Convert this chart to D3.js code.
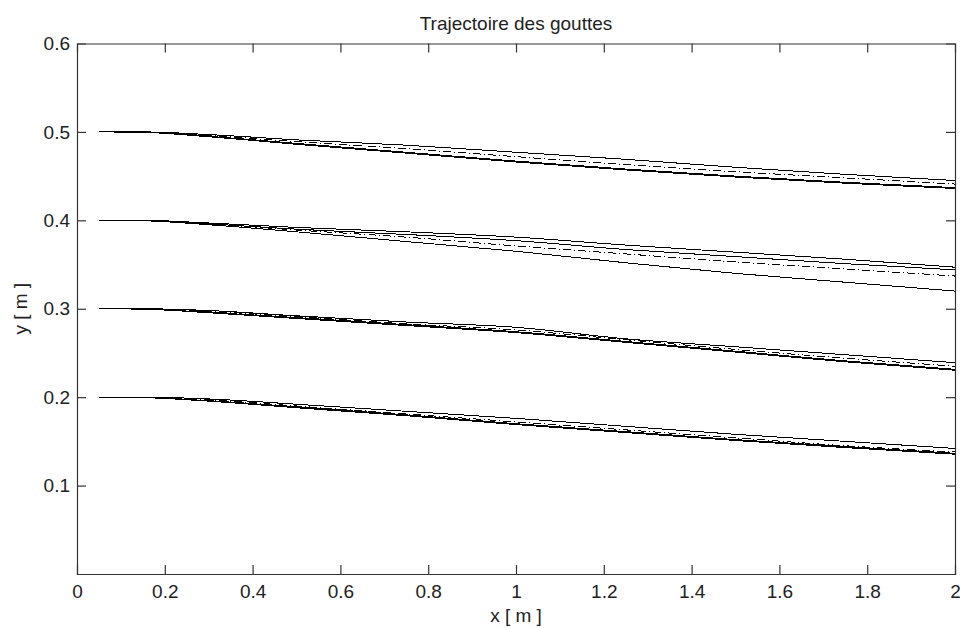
<!DOCTYPE html>
<html>
<head>
<meta charset="utf-8">
<script src="https://cdn.jsdelivr.net/npm/d3@7"></script>
<style>
  html, body { margin: 0; padding: 0; background: #fff; }
  svg { display: block; }
  text { font-family: "Liberation Sans", Arial, sans-serif; fill: #222; }
</style>
</head>
<body>
<svg id="chart" width="960" height="628"></svg>
<script>
// ---- data ----
const titleText = "Trajectoire des gouttes";
const xLabel = "x [ m ]";
const yLabel = "y [ m ]";
const xTicks = [0, 0.2, 0.4, 0.6, 0.8, 1, 1.2, 1.4, 1.6, 1.8, 2];
const yTicks = [0.1, 0.2, 0.3, 0.4, 0.5, 0.6];

// sample abscissae of the trajectories
const xs = [0.05, 0.15, 0.3, 0.5, 0.75, 1.0, 1.25, 1.5, 1.75, 2.0];

// drop released at y = 0.5
const g5Upper   = [0.5, 0.5,    0.497, 0.491, 0.485, 0.477, 0.469, 0.460, 0.452, 0.445];
const g5DashDot = [0.5, 0.5,    0.496, 0.489, 0.481, 0.472, 0.463, 0.455, 0.448, 0.441];
const g5Main    = [0.5, 0.4995, 0.495, 0.487, 0.477, 0.467, 0.458, 0.450, 0.443, 0.437];
const g5Low     = [0.5, 0.4995, 0.4945,0.486, 0.476, 0.466, 0.457, 0.449, 0.442, 0.436];
// drop released at y = 0.4
const g4Upper   = [0.4, 0.4,    0.397, 0.392, 0.387, 0.381, 0.372, 0.364, 0.356, 0.347];
const g4Main    = [0.4, 0.3995, 0.396, 0.390, 0.384, 0.377, 0.367, 0.359, 0.351, 0.344];
const g4DashDot = [0.4, 0.3995, 0.396, 0.389, 0.381, 0.371, 0.362, 0.353, 0.345, 0.337];
const g4Low     = [0.4, 0.3995, 0.395, 0.387, 0.376, 0.365, 0.352, 0.340, 0.330, 0.320];
// drop released at y = 0.3
const g3Upper   = [0.3, 0.3,    0.298, 0.292, 0.285, 0.279, 0.266, 0.257, 0.248, 0.239];
const g3DashDot = [0.3, 0.2995, 0.297, 0.291, 0.283, 0.276, 0.265, 0.254, 0.244, 0.235];
const g3Main    = [0.3, 0.2995, 0.296, 0.290, 0.282, 0.274, 0.263, 0.252, 0.241, 0.2315];
const g3Low     = [0.3, 0.2995, 0.2955,0.289, 0.281, 0.273, 0.262, 0.251, 0.240, 0.2305];
// drop released at y = 0.2
const g2Upper   = [0.2, 0.2,    0.198, 0.192, 0.184, 0.176, 0.167, 0.158, 0.150, 0.142];
const g2DashDot = [0.2, 0.1995, 0.197, 0.190, 0.181, 0.172, 0.163, 0.154, 0.145, 0.138];
const g2Main    = [0.2, 0.1995, 0.196, 0.189, 0.180, 0.170, 0.161, 0.152, 0.144, 0.1365];
const g2Low     = [0.2, 0.1995, 0.1955,0.188, 0.179, 0.169, 0.160, 0.151, 0.143, 0.1355];

const series = [
  { values: g5Upper, dash: null }, { values: g5DashDot, dash: "dashdot" },
  { values: g5Main, dash: null },  { values: g5Low, dash: null },
  { values: g4Upper, dash: null }, { values: g4Main, dash: null },
  { values: g4DashDot, dash: "dashdot" }, { values: g4Low, dash: null },
  { values: g3Upper, dash: null }, { values: g3DashDot, dash: "dashdot" },
  { values: g3Main, dash: null },  { values: g3Low, dash: null },
  { values: g2Upper, dash: null }, { values: g2DashDot, dash: "dashdot" },
  { values: g2Main, dash: null },  { values: g2Low, dash: null }
];

// ---- layout ----
const svg = d3.select("#chart");
const mLeft = 77, mRight = 955, mTop = 43.5, mBottom = 574;
const fontSize = "19px";

const x = d3.scaleLinear().domain([0, 2]).range([mLeft, mRight]);
const y = d3.scaleLinear().domain([0, 0.6]).range([mBottom, mTop]);

const fmt = d => String(+d.toFixed(1));

// lines
const line = d3.line()
  .x((d, i) => x(xs[i]))
  .y(d => y(d))
  .curve(d3.curveMonotoneX);

const gLines = svg.append("g");
series.forEach(s => {
  gLines.append("path")
    .attr("d", line(s.values))
    .attr("fill", "none")
    .attr("stroke", "#000")
    .attr("stroke-width", 1)
    .attr("shape-rendering", "crispEdges")
    .attr("stroke-dasharray", s.dash === "dashdot" ? "8,3,1,3" : null);
});

// axes (ticks inward, on all four sides)
const tickLen = 9;
const axB = svg.append("g").attr("transform", `translate(0,${mBottom})`)
  .call(d3.axisBottom(x).tickValues(xTicks).tickFormat(fmt).tickSize(-tickLen).tickPadding(11));
const axT = svg.append("g").attr("transform", `translate(0,${mTop})`)
  .call(d3.axisTop(x).tickValues(xTicks).tickFormat("").tickSize(-tickLen));
const axL = svg.append("g").attr("transform", `translate(${mLeft},0)`)
  .call(d3.axisLeft(y).tickValues(yTicks).tickFormat(fmt).tickSize(-tickLen).tickPadding(7));
const axR = svg.append("g").attr("transform", `translate(${mRight},0)`)
  .call(d3.axisRight(y).tickValues(yTicks).tickFormat("").tickSize(-tickLen));

[axB, axT, axL, axR].forEach(a => {
  a.selectAll("path.domain").attr("stroke", "#333").attr("stroke-width", 1.2);
  a.selectAll(".tick line").attr("stroke", "#333").attr("stroke-width", 1.2);
  a.selectAll("text").style("font-family", '"Liberation Sans", Arial, sans-serif')
    .style("font-size", fontSize).attr("fill", "#222");
});
// hide tick marks sitting on the box corners
axB.selectAll(".tick").filter(d => d === 0 || d === 2).select("line").remove();
axT.selectAll(".tick").filter(d => d === 0 || d === 2).select("line").remove();
axL.selectAll(".tick").filter(d => d === 0.6).select("line").remove();
axR.selectAll(".tick").filter(d => d === 0.6).select("line").remove();

// title and axis labels
svg.append("text").attr("x", (mLeft + mRight) / 2).attr("y", 30)
  .attr("text-anchor", "middle").style("font-size", fontSize).text(titleText);
svg.append("text").attr("x", (mLeft + mRight) / 2).attr("y", 622)
  .attr("text-anchor", "middle").style("font-size", fontSize).text(xLabel);
svg.append("text")
  .attr("transform", `translate(27,${(mTop + mBottom) / 2}) rotate(-90)`)
  .attr("text-anchor", "middle").style("font-size", fontSize).text(yLabel);
</script>
</body>
</html>
